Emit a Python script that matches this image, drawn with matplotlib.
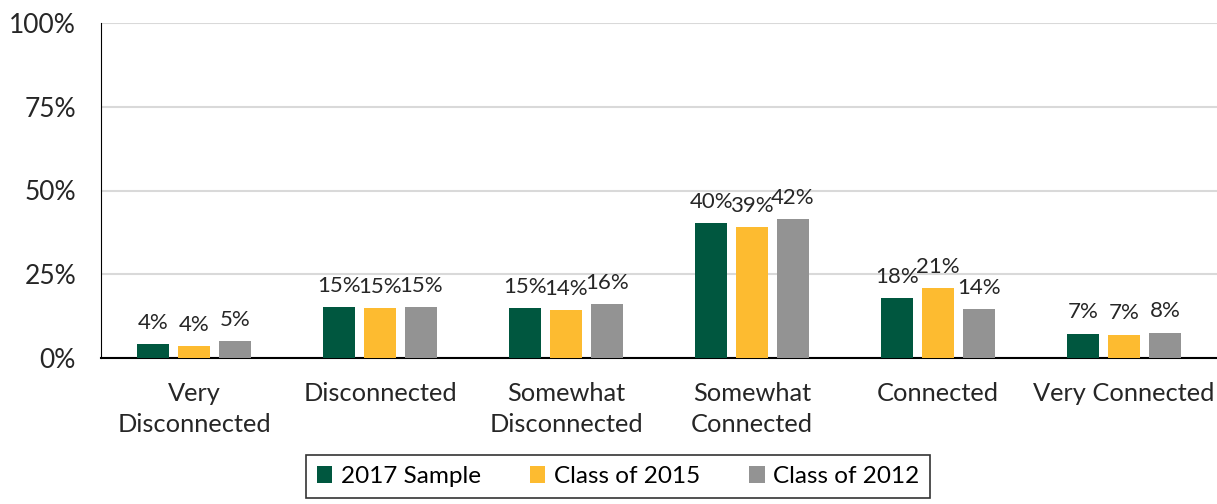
import matplotlib
matplotlib.use("Agg")
import matplotlib.pyplot as plt
import numpy as np
from matplotlib.ticker import FuncFormatter

plt.rcParams['font.family'] = ['Lato', 'DejaVu Sans']

categories = ["Very\nDisconnected", "Disconnected", "Somewhat\nDisconnected",
              "Somewhat\nConnected", "Connected", "Very Connected"]
series_names = ["2017 Sample", "Class of 2015", "Class of 2012"]
s2017 = [4.2, 15.1, 15.0, 40.2, 17.8, 7.3]
s2015 = [3.6, 15.0, 14.2, 39.2, 20.8, 7.0]
s2012 = [5.1, 15.3, 16.2, 41.5, 14.5, 7.6]
labels2017 = ["4%", "15%", "15%", "40%", "18%", "7%"]
labels2015 = ["4%", "15%", "14%", "39%", "21%", "7%"]
labels2012 = ["5%", "15%", "16%", "42%", "14%", "8%"]
colors = ["#00573F", "#FDBB30", "#939393"]

fig = plt.figure(figsize=(12.17, 5.04), dpi=100)
ax = fig.add_axes([101/1217, 1-358/504, 1116/1217, 335/504])

x = np.arange(len(categories))
step = 0.22
width = 0.172
for i, (vals, labs, c, name) in enumerate(zip([s2017, s2015, s2012],
                                               [labels2017, labels2015, labels2012],
                                               colors, series_names)):
    pos = x + (i - 1) * step
    bars = ax.bar(pos, vals, width=width, color=c, label=name, zorder=3)
    for b, lab in zip(bars, labs):
        ax.annotate(lab, (b.get_x() + b.get_width()/2, b.get_height()),
                    xytext=(0, 8), textcoords="offset points",
                    ha="center", va="bottom", fontsize=16, color="#262626")

ax.set_xlim(-0.5, len(categories) - 0.5)
ax.set_ylim(0, 100)
ax.set_yticks([0, 25, 50, 75, 100])
ax.yaxis.set_major_formatter(FuncFormatter(lambda v, p: f"{int(v)}%"))
ax.set_xticks(x)
ax.set_xticklabels(categories, fontsize=18.3, color="#262626", linespacing=1.42)
ax.tick_params(axis='y', labelsize=19, colors="#262626", length=0, pad=18)
ax.tick_params(axis='x', length=0, pad=17)
ax.grid(axis='y', color="#D9D9D9", linewidth=1.5, zorder=0)
for s in ["top", "right"]:
    ax.spines[s].set_visible(False)
ax.spines["left"].set_color("#000000")
ax.spines["bottom"].set_color("#000000")
ax.spines["bottom"].set_linewidth(1.5)

leg = fig.legend(loc="upper center", bbox_to_anchor=(618/1217, 1 - 455/504), ncol=3,
                 fontsize=17.5, frameon=True, fancybox=False, edgecolor="black",
                 handlelength=0.65, handleheight=0.65, handletextpad=0.35,
                 columnspacing=2.0, borderpad=0.45, borderaxespad=0.0)
leg.get_frame().set_linewidth(1.2)

fig.savefig("out.png", dpi=100)
